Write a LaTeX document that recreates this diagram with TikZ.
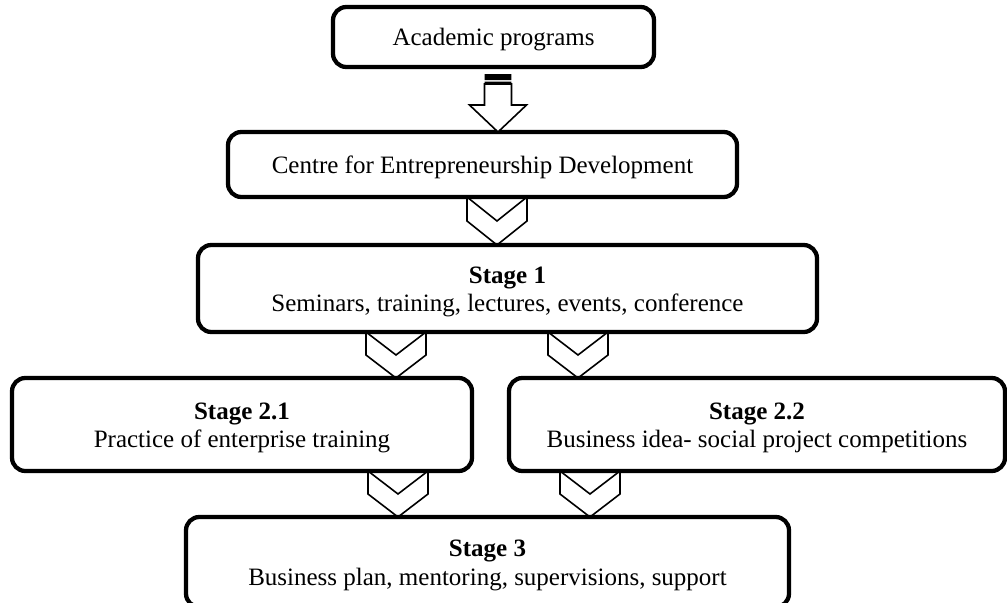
\documentclass[tikz,border=0pt]{standalone}
\usepackage{fontspec}
\setmainfont{Liberation Serif}
\usetikzlibrary{calc}
% raises the first line's height so the text block sits a little lower
\newcommand\tstrut{\rule{0pt}{17.3pt}}
\begin{document}
\begin{tikzpicture}[x=0.75pt,y=-0.75pt,
  box/.style={draw, line width=3.2pt, rounded corners=10pt, fill=white,
    inner sep=0pt, outer sep=0pt, align=center,
    font=\fontsize{18.75}{21.5}\selectfont},
  chevline/.style={draw, line width=1.2pt, line join=miter},
  blockarrow/.style={draw, line width=1.2pt, line join=miter, fill=white},
]
\useasboundingbox (0,0) rectangle (1007,603);

% boxes
\node[box, minimum width=240.75pt, minimum height=45pt] (acad) at (493.5,37)
  {\tstrut Academic programs};
\node[box, minimum width=381.75pt, minimum height=48.75pt] (ced) at (482.5,164.5)
  {\tstrut Centre for Entrepreneurship Development};
\node[box, minimum width=464.25pt, minimum height=65.25pt] (s1) at (507.5,288.5)
  {\tstrut\textbf{Stage 1}\\Seminars, training, lectures, events, conference};
\node[box, minimum width=345pt, minimum height=69.75pt] (s21) at (242,424.5)
  {\tstrut\textbf{Stage 2.1}\\Practice of enterprise training};
\node[box, minimum width=372pt, minimum height=69.75pt] (s22) at (757,424.5)
  {\tstrut\textbf{Stage 2.2}\\Business idea- social project competitions};
\node[box, minimum width=452.25pt, minimum height=67.5pt] (s3) at (487.5,562)
  {\tstrut\textbf{Stage 3}\\Business plan, mentoring, supervisions, support};

% striped block arrow from the programmes to the centre
\path let \p1=(498,0 |- acad.south), \p2=(498,0 |- ced.north) in
  [fill=black] (\x1-10.1pt,\y1-5.25pt) rectangle (\x1+10.1pt,\y1-9.75pt)
  [fill=black] (\x1-10.1pt,\y1-10.9pt) rectangle (\x1+10.1pt,\y1-12.75pt);
\draw[blockarrow] let \p1=(498,0 |- acad.south), \p2=(498,0 |- ced.north) in
  (\x1-10.1pt,\y1-12.75pt) -- (\x1-10.1pt,\y2+20.25pt)
  -- (\x1-21.4pt,\y2+20.25pt) -- (\x1,\y2) -- (\x1+21.4pt,\y2+20.25pt)
  -- (\x1+10.1pt,\y2+20.25pt) -- (\x1+10.1pt,\y1-12.75pt) -- cycle;

% chevron connectors: #1 = x position, #2 = upper node, #3 = lower node
\newcommand\chevconn[3]{%
  \draw[chevline] let \p1=(#1,0 |- #2.south), \p2=(#1,0 |- #3.north),
    \p3=($(\p1)!0.5!(\p2)$) in
    (\x1-22.5pt,\y1) -- (\x1-22.5pt,\y3) -- (\x1,\y2) -- (\x1+22.5pt,\y3)
    -- (\x1+22.5pt,\y1) -- (\x1,\y3) -- cycle;}
\chevconn{497}{ced}{s1}
\chevconn{396}{s1}{s21}
\chevconn{578}{s1}{s22}
\chevconn{398}{s21}{s3}
\chevconn{590}{s22}{s3}
\end{tikzpicture}
\end{document}
